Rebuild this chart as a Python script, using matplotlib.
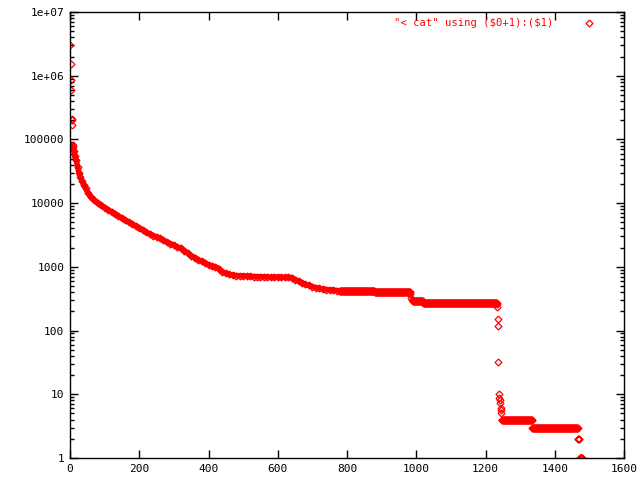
import numpy as np
import matplotlib
matplotlib.use("Agg")
import matplotlib.pyplot as plt
from matplotlib.ticker import LogLocator, NullFormatter, FixedLocator

# isolated points at the very top of the ranking
top_x = [1, 2, 3, 4, 5, 6, 7]
top_y = [3.0e6, 1.5e6, 8.6e5, 6.0e5, 2.1e5, 2.0e5, 1.7e5]

# dense part of the ranking
band_x = [8, 10, 12, 14, 18, 22, 26, 30, 35, 40, 45, 52, 60,
          70, 80, 90, 100, 110, 120, 130, 140, 150, 160, 170, 180, 190, 200,
          210, 220, 230, 240, 250, 260, 270, 280, 290, 300, 310, 320, 330, 340,
          350, 360, 370, 380, 390, 400, 410, 420, 430, 440, 450, 460, 470, 480,
          490, 500, 510, 520, 530, 540, 550, 560, 570, 580, 590, 600, 610, 620,
          630, 640, 650, 660, 670, 680, 690, 700, 710, 720, 730, 740, 750, 760,
          770, 779]
band_y = [8.2e4, 7.5e4, 6.5e4, 5.5e4, 4.8e4, 3.7e4, 3.0e4, 2.6e4, 2.2e4, 1.9e4,
          1.7e4, 1.45e4, 1.25e4, 1.12e4, 1.0e4, 9.2e3, 8.5e3, 7.9e3, 7.3e3, 6.8e3,
          6.3e3, 5.8e3, 5.4e3, 5.0e3, 4.7e3, 4.4e3, 4.1e3, 3.8e3, 3.5e3, 3.3e3,
          3.1e3, 2.95e3, 2.8e3, 2.6e3, 2.45e3, 2.3e3, 2.2e3, 2.05e3, 1.95e3,
          1.8e3, 1.65e3, 1.5e3, 1.4e3, 1.3e3, 1.22e3, 1.15e3, 1.08e3, 1.03e3,
          1.0e3, 940, 840, 790, 760, 740, 730, 725, 720, 715, 710, 705, 700, 700,
          700, 695, 690, 690, 690, 688, 685, 683, 680, 630, 600, 560, 530, 510,
          490, 470, 460, 450, 440, 435, 430, 425, 420]

# points in the two steep drops
drop_x = [983, 985, 988, 1233, 1234, 1235, 1236, 1237, 1238, 1240, 1241,
          1242, 1244, 1245, 1246]
drop_y = [370, 330, 300, 262, 235, 152, 118, 32, 10, 8.7, 8.0, 7.3, 6.1, 5.6, 5.1]

# flat runs: first rank, last rank, value
run_start = [780, 880, 990, 1020, 1247, 1335, 1467, 1472]
run_end = [879, 982, 1019, 1232, 1334, 1466, 1470, 1480]
run_value = [420, 400, 290, 270, 4, 3, 2, 1]

xs = top_x + band_x + drop_x
ys = top_y + band_y + drop_y
for a, b, v in zip(run_start, run_end, run_value):
    for r in range(a, b + 1):
        xs.append(r)
        ys.append(v)

plt.rcParams['font.family'] = ['DejaVu Sans Mono']
fig = plt.figure(figsize=(6.4, 4.8), dpi=100)
ax = fig.add_axes([70 / 640, 22 / 480, 554 / 640, 446 / 480])

mk = dict(linestyle='none', marker='D', markersize=3.5, fillstyle='none',
          markeredgecolor='red', markeredgewidth=0.9)
# the points in the dense part overlap into a solid band
ax.plot(band_x, band_y, color='red', linewidth=4.0, solid_capstyle='round')
ax.plot(xs, ys, **mk)

ax.set_yscale('log')
ax.set_xlim(0, 1600)
ax.set_ylim(1, 1e7)
ax.xaxis.set_major_locator(FixedLocator([0, 200, 400, 600, 800, 1000, 1200, 1400, 1600]))
ax.yaxis.set_minor_locator(LogLocator(base=10, subs=np.arange(2, 10), numticks=20))
ax.yaxis.set_minor_formatter(NullFormatter())
ylabels = ['1', '10', '100', '1000', '10000', '100000', '1e+06', '1e+07']
ax.set_yticks([10 ** i for i in range(8)])
ax.set_yticklabels(ylabels)

ax.tick_params(which='both', direction='in', top=True, right=True, labelsize=8, pad=4)
ax.tick_params(which='major', length=6, width=1)
ax.tick_params(which='minor', length=3, width=1)
for s in ax.spines.values():
    s.set_linewidth(1)

# key, gnuplot style
fig.text(553 / 640, 1 - 23 / 480, '"< cat" using (\\$0+1):(\\$1)', color='red',
         fontsize=7.6, ha='right', va='center')
fig.add_artist(plt.Line2D([589 / 640], [1 - 23 / 480], transform=fig.transFigure,
                          **mk))

fig.savefig('out.png', dpi=100)
